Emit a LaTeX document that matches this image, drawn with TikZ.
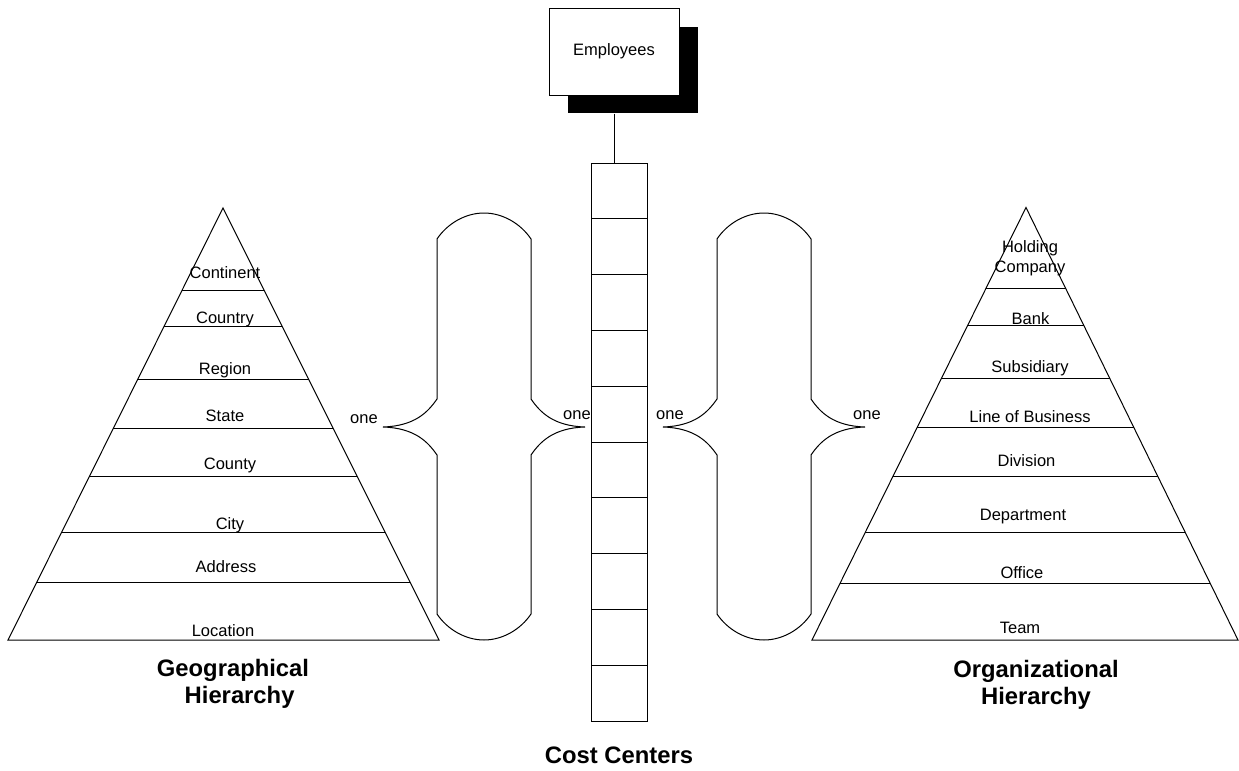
\documentclass[tikz,border=0pt]{standalone}
\usepackage{fontspec}
\setmainfont{Liberation Sans}
\usetikzlibrary{calc}
\begin{document}
\begin{tikzpicture}[x=0.5pt,y=-0.5pt,line width=0.5pt,
  lbl/.style={font=\fontsize{8.25}{10}\selectfont,inner sep=0pt,align=center},
  title/.style={font=\fontsize{11.9}{13.5}\selectfont\bfseries,inner sep=0pt,align=center},
  cell/.style={draw,minimum width=28pt,minimum height=27.9pt,inner sep=0pt},
  empbox/.style={draw,fill=white,minimum width=65pt,minimum height=43.5pt,inner sep=0pt,font=\fontsize{8.25}{9.5}\selectfont},
  shadowbox/.style={fill=black,minimum width=65pt,minimum height=43pt,inner sep=0pt}]
\useasboundingbox (0,0) rectangle (1239,771);

% Employees with shadow
\node[shadowbox] (empsh) at (633,70) {};
\node[empbox] (emp) at (614,51.5) {Employees};

% Cost centers column
\foreach \i in {1,...,10}
  \node[cell] (cc\i) at (619,{163+55.8*(\i-0.5)}) {};
\draw (emp.south |- empsh.south) -- (emp.south |- cc1.north);
\node[title] (cctitle) at (619,755) {Cost Centers};

% Left triangle (geographical)
\coordinate (gA) at (223,208);
\coordinate (gL) at (8,640);
\coordinate (gR) at (439,640);
\draw (gA) -- (gL) -- (gR) -- cycle;
\foreach \yy in {290.7,326,379.3,428.3,476.3,532.7,582} {
  \pgfmathsetmacro\ff{(\yy-208)/432}
  \draw ($(gA)!\ff!(gL)$) -- ($(gA)!\ff!(gR)$);
}
\node[lbl] (g1) at (225,273) {Continent};
\node[lbl] (g2) at (225,319) {Country};
\node[lbl] (g3) at (225,370) {Region};
\node[lbl] (g4) at (225,416) {State};
\node[lbl] (g5) at (230,465) {County};
\node[lbl] (g6) at (230,525) {City};
\node[lbl] (g7) at (226,567) {Address};
\node[lbl] (g8) at (223,631) {Location};
\node[title] (gtitle) at (233,684) {Geographical\\\ \ Hierarchy};

% Right triangle (organizational)
\coordinate (oA) at (1026,207.5);
\coordinate (oL) at (812,640);
\coordinate (oR) at (1238,640);
\draw (oA) -- (oL) -- (oR) -- cycle;
\foreach \yy in {288.3,325.3,378.7,427.7,476,532.3,583.3} {
  \pgfmathsetmacro\ff{(\yy-207.5)/432.5}
  \draw ($(oA)!\ff!(oL)$) -- ($(oA)!\ff!(oR)$);
}
\node[lbl] (o1) at (1030,258) {Holding\\Company};
\node[lbl] (o2) at (1030.5,319) {Bank};
\node[lbl] (o3) at (1030,368) {Subsidiary};
\node[lbl] (o4) at (1030,416.5) {Line of Business};
\node[lbl] (o5) at (1026.5,461) {Division};
\node[lbl] (o6) at (1023,516.5) {Department};
\node[lbl] (o7) at (1022,572.5) {Office};
\node[lbl] (o8) at (1020,627.5) {Team};
\node[title] (otitle) at (1036,685) {Organizational\\Hierarchy};

% Double braces
\foreach \dx in {0,280} {
\begin{scope}[shift={(\dx,0)}]
\draw (383,427) .. controls (415,426) and (428,412) .. (437,399) -- (437,239)
  .. controls (447,224) and (465,213) .. (484,213)
  .. controls (503,213) and (521,224) .. (531,239) -- (531,399)
  .. controls (540,412) and (553,426) .. (585,427)
  .. controls (553,428) and (540,442) .. (531,455) -- (531,614)
  .. controls (521,629) and (503,640) .. (484,640)
  .. controls (465,640) and (447,629) .. (437,614) -- (437,455)
  .. controls (428,442) and (415,428) .. cycle;
\end{scope}
}
\node[lbl] (one1) at (364,419) {one};
\node[lbl] (one2) at (577,415) {one};
\node[lbl] (one3) at (670,415) {one};
\node[lbl] (one4) at (867,415) {one};
\end{tikzpicture}
\end{document}
